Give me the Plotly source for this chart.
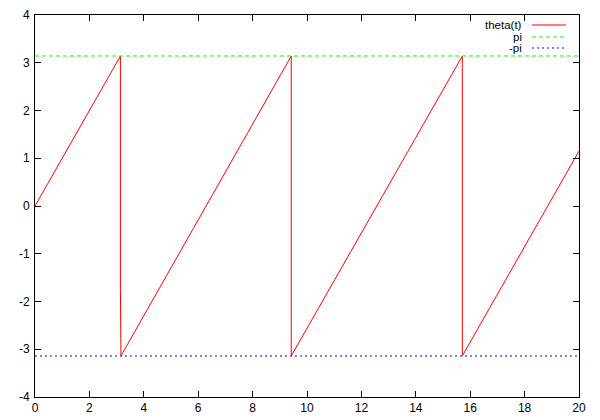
import plotly.graph_objects as go

# theta(t) polyline (wraps at the +/-pi lines)
theta_t = [0.0, 3.14, 3.14, 3.16, 9.42, 9.42, 15.71, 15.71, 20.0]
theta_y = [0.0, 3.14, -1.75, -3.14, 3.14, -3.14, 3.14, -3.14, 1.15]

pi_t = [0.0, 20.0]
pi_y = [3.14159, 3.14159]
mpi_y = [-3.14159, -3.14159]

x_ticks = [0, 2, 4, 6, 8, 10, 12, 14, 16, 18, 20]
y_ticks = [-4, -3, -2, -1, 0, 1, 2, 3, 4]

legend_names = ["theta(t)", "pi", "-pi"]
legend_colors = ["#ff0000", "#00ff00", "#0000ff"]

fig = go.Figure()
fig.add_trace(go.Scatter(x=theta_t, y=theta_y, mode="lines",
                         line=dict(color=legend_colors[0], width=1), name=legend_names[0]))
fig.add_trace(go.Scatter(x=pi_t, y=pi_y, mode="lines",
                         line=dict(color=legend_colors[1], width=1, dash="4px,3px"), name=legend_names[1]))
fig.add_trace(go.Scatter(x=pi_t, y=mpi_y, mode="lines",
                         line=dict(color=legend_colors[2], width=1, dash="2px,3px"), name=legend_names[2]))

# gnuplot-style legend: text on the left, sample on the right
W, H = 600, 420
ml, mr, mt, mb = 35, 21, 15, 23
pw, ph = W - ml - mr, H - mt - mb
rows_y = [25, 37, 48]
for name, col, dsh, yy in zip(legend_names, legend_colors, ["solid", "4px,3px", "2px,3px"], rows_y):
    yp = 1 - (yy - mt) / ph
    fig.add_annotation(xref="paper", yref="paper", x=(523 - ml) / pw, y=yp,
                       text=name, showarrow=False, xanchor="right", yanchor="middle",
                       borderpad=0,
                       font=dict(family="Liberation Sans, Arial, sans-serif", size=11.5, color="black"))
    fig.add_shape(type="line", xref="paper", yref="paper",
                  x0=(532 - ml) / pw, x1=(566 - ml) / pw, y0=yp, y1=yp,
                  line=dict(color=col, width=1, dash=dsh))

axis_common = dict(showgrid=False, zeroline=False, showline=True, linecolor="black",
                   linewidth=1, mirror="ticks", ticks="inside", ticklen=6,
                   tickcolor="black", tickwidth=1, automargin=False,
                   tickfont=dict(family="Liberation Sans, Arial, sans-serif", size=12, color="black"))

fig.update_xaxes(range=[0, 20], tickvals=x_ticks, ticktext=[str(v) for v in x_ticks], **axis_common)
fig.update_yaxes(range=[-4, 4], tickvals=y_ticks, ticktext=[str(v) for v in y_ticks],
                 ticklabelstandoff=2, **axis_common)

fig.update_layout(width=W, height=H, margin=dict(l=ml, r=mr, t=mt, b=mb),
                  plot_bgcolor="white", paper_bgcolor="white", showlegend=False)

fig.write_html("out.html", config={"displayModeBar": False},
               post_script="document.body.style.margin='0';document.body.style.padding='0';")
